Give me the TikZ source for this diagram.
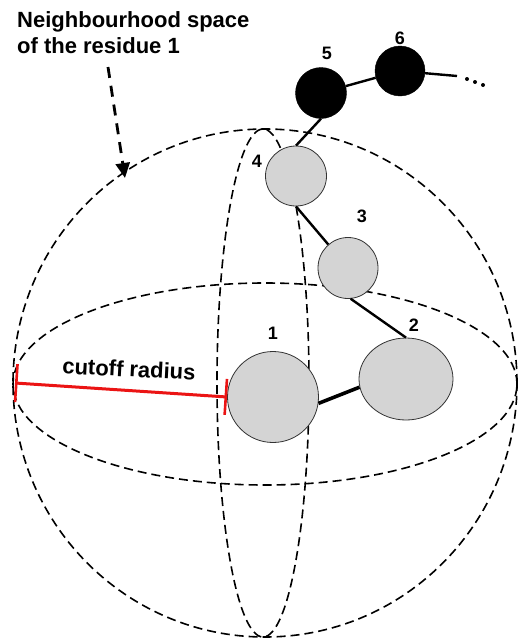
\documentclass[tikz,border=0pt]{standalone}
\usepackage{fontspec}
\setmainfont{Liberation Sans}
\usetikzlibrary{arrows.meta,shapes.geometric}
\definecolor{ballgray}{RGB}{212,212,212}
\definecolor{cutred}{RGB}{235,20,20}
\tikzset{
  sphereline/.style={line width=1.6pt, dash pattern=on 9pt off 5pt},
  ball/.style={ellipse, draw=black!80, line width=0.8pt, fill=ballgray, inner sep=0pt},
  blackball/.style={circle, draw=black, fill=black, inner sep=0pt, minimum size=50pt},
  bond/.style={line width=2.4pt, black},
  numlabel/.style={font=\bfseries\fontsize{18}{18}\selectfont, inner sep=0pt},
  dotmark/.style={circle, fill=black, inner sep=0pt, minimum size=4pt},
}
\begin{document}
\begin{tikzpicture}[x=1pt,y=-1pt]
\useasboundingbox (0,0) rectangle (517,640);
% sphere
\draw[sphereline] (265,383) ellipse [x radius=252pt, y radius=254pt];
\draw[sphereline] (265,384) ellipse [x radius=252pt, y radius=101pt];
\draw[sphereline] (263,383) ellipse [x radius=46pt, y radius=254pt];
% residues
\node[ball, minimum width=91pt, minimum height=91pt] (r1) at (273,397) {};
\node[ball, minimum width=94pt, minimum height=82pt] (r2) at (406,379) {};
\node[ball, minimum width=60pt, minimum height=61pt] (r3) at (348,268) {};
\node[ball, minimum width=61pt, minimum height=60pt] (r4) at (296,176) {};
\node[blackball, minimum size=51pt] (r5) at (321,93) {};
\node[blackball, minimum size=50pt] (r6) at (400,71) {};
% bonds
\draw[bond, line width=3.6pt] (r1.-8) -- (r2.190);
\draw[bond] (r2.north) -- (r3.-85);
\draw[bond] (r3.130) -- (r4.south);
\draw[bond] (r4.north) -- (r5.south);
\draw[bond] (r5) -- (r6);
\coordinate (tail) at (457,76);
\draw[bond] (r6) -- (tail);
\node[dotmark] (d1) at (467,79) {};
\node[dotmark] (d2) at (475,82) {};
\node[dotmark] (d3) at (483,85) {};
% labels
\node[numlabel] (l1) at (273,333) {1};
\node[numlabel] (l2) at (414,325) {2};
\node[numlabel] (l3) at (362,216) {3};
\node[numlabel] (l4) at (257,161) {4};
\node[numlabel] (l5) at (327,53) {5};
\node[numlabel] (l6) at (400,38) {6};
% title
\node[anchor=north west, align=left, inner sep=0pt,
      font=\bfseries\fontsize{22}{26}\selectfont] (title) at (17,11)
  {Neighbourhood space\\of the residue 1};
\coordinate (astart) at (108,67);
\coordinate (aend) at (125,178);
\draw[line width=2.8pt, dash pattern=on 11pt off 8pt,
      -{Triangle[length=15pt,width=14pt]}] (astart) -- (aend);
% cutoff radius
\coordinate (cl) at (15,383);
\draw[cutred, line width=3pt, {Bar[width=38pt,line width=2.6pt]}-{Bar[width=36pt,line width=2.6pt]}] (cl) -- (r1.west);
\node[font=\bfseries\fontsize{22}{22}\selectfont, rotate=-3, inner sep=0pt] (cutlbl) at (129,369) {cutoff radius};
\end{tikzpicture}
\end{document}
